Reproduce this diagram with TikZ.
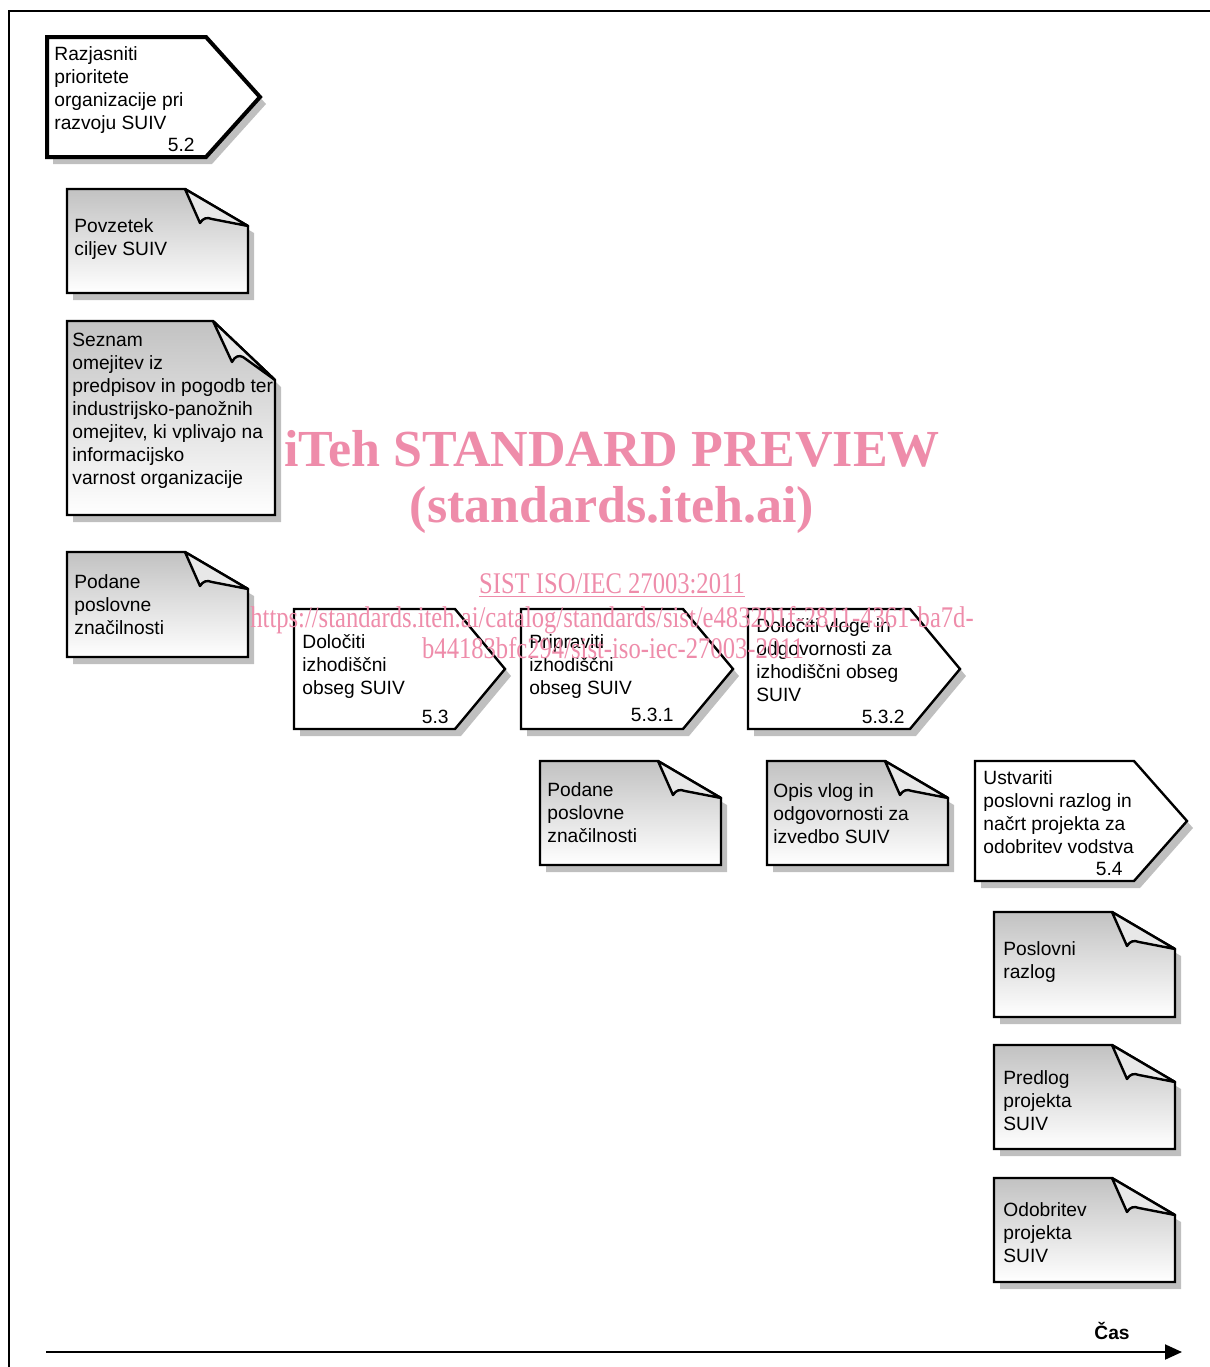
\documentclass[tikz,border=0pt]{standalone}
\usepackage{fontspec}
\setmainfont{Liberation Sans}
\newfontfamily\wmfont{Liberation Serif}
\newfontfamily\wmthin[FakeStretch=0.82]{Liberation Serif}
\usetikzlibrary{arrows.meta, shadows}
\definecolor{wmpink}{RGB}{238,140,170}

\begin{document}
\begin{tikzpicture}[x=0.5pt, y=-0.5pt,
    every node/.style={inner sep=0pt, align=left, font=\fontsize{9.6}{11.5}\selectfont},
    shadowed/.style={drop shadow={shadow xshift=3pt, shadow yshift=-3.5pt, fill=black!25, opacity=1}},
    stepbox/.style={draw, line width=1.2pt, fill=white, shadowed},
    docbox/.style={draw, line width=1.2pt, top color=gray!48, bottom color=white, shadowed},
    flap/.style={draw, line width=1.2pt, fill=gray!18, line join=round},
    txt/.style={anchor=north west},
    num/.style={anchor=base east},
    wm/.style={text=wmpink, anchor=base, align=center, font=\wmfont\bfseries\fontsize{26}{28}\selectfont},
    wmsmall/.style={text=wmpink, anchor=base, align=center, font=\wmthin\fontsize{15}{16}\selectfont}]

\useasboundingbox (0,0) rectangle (1210,1367);

% frame
\draw[line width=1pt] (1210,11) -- (9,11) -- (9,1367);

% process steps
\draw[stepbox, line width=2pt] (47,37) -- (206,37) -- (260,97) -- (206,157) -- (47,157) -- cycle;
\draw[stepbox] (294,609) -- (455,609) -- (505,669) -- (455,729) -- (294,729) -- cycle;
\draw[stepbox] (521,609) -- (683,609) -- (733,669) -- (683,729) -- (521,729) -- cycle;
\draw[stepbox] (748,609) -- (910,609) -- (960,669) -- (910,729) -- (748,729) -- cycle;
\draw[stepbox] (975,761) -- (1134,761) -- (1187,821) -- (1134,881) -- (975,881) -- cycle;

\node (s52) [txt] at (54,46) {Razjasniti\\prioritete\\organizacije pri\\razvoju SUIV};
\node (s52n) [num] at (195,151) {5.2};
\node (s53) [txt] at (302,634) {Določiti\\izhodiščni\\obseg SUIV};
\node (s53n) [num] at (449,723) {5.3};
\node (s531) [txt] at (529,634) {Pripraviti\\izhodiščni\\obseg SUIV};
\node (s531n) [num] at (674,721) {5.3.1};
\node (s532) [txt] at (756,618) {Določiti vloge in\\odgovornosti za\\izhodiščni obseg\\SUIV};
\node (s532n) [num] at (905,723) {5.3.2};
\node (s54) [txt] at (983,770) {Ustvariti\\poslovni razlog in\\načrt projekta za\\odobritev vodstva};
\node (s54n) [num] at (1123,875) {5.4};

% documents
\draw[docbox] (67,189) -- (185,189) -- (248,226) -- (248,293) -- (67,293) -- cycle;
\draw[flap] (185,189) -- (200,223) .. controls (203,218) and (207,217) .. (212,219) -- (248,226) -- cycle;
\draw[docbox] (67,321) -- (213,321) -- (275,380) -- (275,515) -- (67,515) -- cycle;
\draw[flap] (213,321) -- (232,362) .. controls (235,356) and (239,355) .. (243,357) -- (275,380) -- cycle;
\draw[docbox] (67,552) -- (185,552) -- (248,589) -- (248,657) -- (67,657) -- cycle;
\draw[flap] (185,552) -- (200,586) .. controls (203,581) and (207,580) .. (212,582) -- (248,589) -- cycle;
\draw[docbox] (540,761) -- (658,761) -- (721,798) -- (721,865) -- (540,865) -- cycle;
\draw[flap] (658,761) -- (673,795) .. controls (676,790) and (680,789) .. (685,791) -- (721,798) -- cycle;
\draw[docbox] (767,761) -- (885,761) -- (948,798) -- (948,865) -- (767,865) -- cycle;
\draw[flap] (885,761) -- (900,795) .. controls (903,790) and (907,789) .. (912,791) -- (948,798) -- cycle;
\draw[docbox] (994,912) -- (1112,912) -- (1175,949) -- (1175,1017) -- (994,1017) -- cycle;
\draw[flap] (1112,912) -- (1127,946) .. controls (1130,941) and (1134,940) .. (1139,942) -- (1175,949) -- cycle;
\draw[docbox] (994,1045) -- (1112,1045) -- (1175,1082) -- (1175,1149) -- (994,1149) -- cycle;
\draw[flap] (1112,1045) -- (1127,1079) .. controls (1130,1074) and (1134,1073) .. (1139,1075) -- (1175,1082) -- cycle;
\draw[docbox] (994,1178) -- (1112,1178) -- (1175,1215) -- (1175,1282) -- (994,1282) -- cycle;
\draw[flap] (1112,1178) -- (1127,1212) .. controls (1130,1207) and (1134,1206) .. (1139,1208) -- (1175,1215) -- cycle;

\node (povz) [txt] at (74,218) {Povzetek\\ciljev SUIV};
\node (omej) [txt] at (72,333) {Seznam\\omejitev iz\\predpisov in pogodb ter\\industrijsko-panožnih\\omejitev, ki vplivajo na\\informacijsko\\varnost organizacije};
\node (podL) [txt] at (74,574) {Podane\\poslovne\\značilnosti};
\node (podM) [txt] at (547,782) {Podane\\poslovne\\značilnosti};
\node (opis) [txt] at (773,783) {Opis vlog in\\odgovornosti za\\izvedbo SUIV};
\node (razl) [txt] at (1003,941) {Poslovni\\razlog};
\node (predl) [txt] at (1003,1070) {Predlog\\projekta\\SUIV};
\node (odob) [txt] at (1003,1202) {Odobritev\\projekta\\SUIV};

% time axis
\coordinate (t0) at (46,1352);
\coordinate (t1) at (1182,1352);
\draw[line width=1pt, -{Triangle[length=8.5pt, width=7.5pt]}] (t0) -- (t1);
\node (cas) [font=\bfseries\fontsize{9.6}{11.5}\selectfont] at (1112,1331) {Čas};

% watermark
\node (wm1) [wm] at (612,466) {iTeh STANDARD PREVIEW};
\node (wm2) [wm] at (612,522) {(standards.iteh.ai)};
\node (wm3) [wmsmall] at (612,593) {\underline{SIST ISO/IEC 27003:2011}};
\node (wm4) [wmsmall] at (612,627) {https://standards.iteh.ai/catalog/standards/sist/e483201f-2811-4361-ba7d-};
\node (wm5) [wmsmall] at (613,658) {b44183bfc294/sist-iso-iec-27003-2011};
\end{tikzpicture}
\end{document}
